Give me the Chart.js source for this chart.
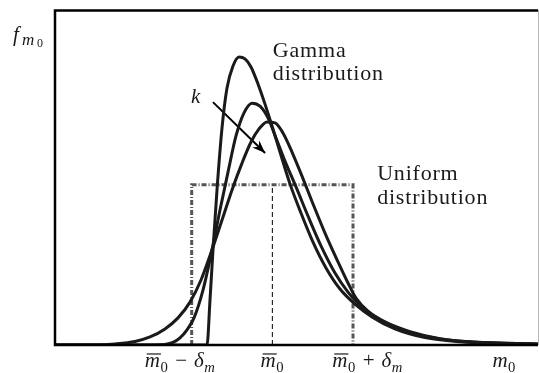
<!DOCTYPE html>
<html>
<head>
<meta charset="utf-8">
<script src="https://cdn.jsdelivr.net/npm/chart.js@4.4.1/dist/chart.umd.min.js"></script>
<style>
    html, body { margin: 0; padding: 0; background: #fff; }
</style>
</head>
<body>
<canvas id="mass-pdf" width="539" height="373"></canvas>
<script>
/**
 * Prior densities for the mass m0: three gamma shapes (k increasing)
 * against a uniform density on [m̄0 - δm, m̄0 + δm].
 */

// Mass axis in arbitrary units
const M_BAR = 4.5;
const DELTA_M = 1.67;
const UNIFORM_HEIGHT = 0.478;

// Gamma density, smallest k (tallest, hard start)
const GAMMA_K1_X = [0, 3.147, 3.209, 3.271, 3.354, 3.458, 3.561, 3.685, 3.810, 3.934, 4.058, 4.203, 4.348, 4.493, 4.658, 4.865, 5.093, 5.342, 5.611, 5.901, 6.211, 6.563, 7.039, 7.660, 8.385, 9.213, 10];
const GAMMA_K1_Y = [0, 0, 0.134, 0.284, 0.463, 0.648, 0.767, 0.833, 0.860, 0.854, 0.830, 0.779, 0.719, 0.654, 0.576, 0.481, 0.394, 0.307, 0.230, 0.167, 0.122, 0.084, 0.048, 0.022, 0.010, 0.005, 0.002];

// Gamma density, middle k
const GAMMA_K2_X = [0, 2.070, 2.277, 2.443, 2.588, 2.733, 2.878, 3.064, 3.251, 3.416, 3.582, 3.747, 3.913, 4.079, 4.244, 4.410, 4.576, 4.762, 4.990, 5.238, 5.507, 5.797, 6.066, 6.273, 6.563, 6.936, 7.391, 7.971, 8.696, 10];
const GAMMA_K2_Y = [0, 0, 0.0015, 0.0075, 0.021, 0.045, 0.081, 0.164, 0.284, 0.403, 0.516, 0.624, 0.693, 0.722, 0.713, 0.678, 0.618, 0.549, 0.472, 0.385, 0.296, 0.215, 0.158, 0.125, 0.090, 0.060, 0.036, 0.018, 0.009, 0.0024];

// Gamma density, largest k (broadest)
const GAMMA_K3_X = [0, 0.828, 1.242, 1.656, 1.967, 2.277, 2.547, 2.795, 3.023, 3.251, 3.458, 3.665, 3.872, 4.058, 4.224, 4.389, 4.555, 4.720, 4.907, 5.114, 5.342, 5.590, 5.859, 6.066, 6.232, 6.480, 6.832, 7.350, 7.971, 8.696, 10];
const GAMMA_K3_Y = [0, 0, 0.003, 0.0104, 0.024, 0.048, 0.081, 0.128, 0.194, 0.284, 0.373, 0.463, 0.543, 0.606, 0.645, 0.666, 0.663, 0.633, 0.576, 0.504, 0.421, 0.334, 0.248, 0.185, 0.140, 0.101, 0.069, 0.040, 0.019, 0.0085, 0.003];

// Arrow showing the direction of increasing k
const ARROW_X = [3.27, 4.35];
const ARROW_Y = [0.725, 0.573];

// Where the axis labels sit along m0
const X_LABEL_AT = [2.59, 4.5, 6.47, 9.3];

const SERIF = "'Liberation Serif', 'DejaVu Serif', serif";
const INK = '#1a1a1a';

function points(xs, ys) {
    return xs.map((x, i) => ({ x, y: ys[i] }));
}

const uniformX = [M_BAR - DELTA_M, M_BAR - DELTA_M, M_BAR + DELTA_M, M_BAR + DELTA_M];
const uniformY = [0, UNIFORM_HEIGHT, UNIFORM_HEIGHT, 0];

function gammaDataset(xs, ys) {
    return {
        data: points(xs, ys),
        borderColor: INK,
        borderWidth: 3,
        pointRadius: 0,
        cubicInterpolationMode: 'monotone',
        borderJoinStyle: 'round',
        fill: false,
    };
}

// Math-ish labels: runs of text with italic / subscript / overbar
const SUB = { sub: true };
const X_LABELS = [
    [{ t: 'm', it: true, bar: true }, { t: '0', ...SUB }, { t: '−', op: true }, { t: 'δ', it: true }, { t: 'm', it: true, ...SUB }],
    [{ t: 'm', it: true, bar: true }, { t: '0', ...SUB }],
    [{ t: 'm', it: true, bar: true }, { t: '0', ...SUB }, { t: '+', op: true }, { t: 'δ', it: true }, { t: 'm', it: true, ...SUB }],
    [{ t: 'm', it: true }, { t: '0', ...SUB }],
];

// Free text placed in data coordinates: [x, baseline y]
const NOTES = [
    { text: 'Gamma', at: [4.51, 0.860] },
    { text: 'distribution', at: [4.51, 0.791] },
    { text: 'Uniform', at: [6.67, 0.493] },
    { text: 'distribution', at: [6.67, 0.421] },
];

function runFont(r, size) {
    const s = r.sub ? size * 0.7 : size;
    return `${r.it ? 'italic ' : ''}${s}px ${SERIF}`;
}

function drawRuns(ctx, runs, x, y, size, align) {
    let width = 0;
    const laid = runs.map(r => {
        ctx.font = runFont(r, size);
        const pad = r.op ? size * 0.33 : 0;
        const w = ctx.measureText(r.t).width;
        const item = { r, x: width + pad, w };
        width += w + pad * 2 + (r.sub ? 1 : 0);
        return item;
    });
    const x0 = align === 'center' ? x - width / 2 : x;
    for (const { r, x: dx, w } of laid) {
        ctx.font = runFont(r, size);
        const yy = y + (r.sub ? size * 0.22 : 0);
        ctx.fillText(r.t, x0 + dx + (r.sub ? 0.5 : 0), yy);
        if (r.bar) {
            const top = y - size * 0.62;
            ctx.beginPath();
            ctx.moveTo(x0 + dx + 2, top);
            ctx.lineTo(x0 + dx + w + 1, top);
            ctx.lineWidth = 1.2;
            ctx.stroke();
        }
    }
}

const framePlugin = {
    id: 'frame',
    afterDatasetsDraw(chart) {
        const { ctx, chartArea: a, scales: { x, y } } = chart;
        ctx.save();

        // arrowhead at the end of the k arrow
        const x1 = x.getPixelForValue(ARROW_X[0]), y1 = y.getPixelForValue(ARROW_Y[0]);
        const x2 = x.getPixelForValue(ARROW_X[1]), y2 = y.getPixelForValue(ARROW_Y[1]);
        const ang = Math.atan2(y2 - y1, x2 - x1);
        const len = 13, half = 5;
        ctx.fillStyle = '#000';
        ctx.beginPath();
        ctx.moveTo(x2, y2);
        ctx.lineTo(x2 - len * Math.cos(ang) + half * Math.sin(ang), y2 - len * Math.sin(ang) - half * Math.cos(ang));
        ctx.lineTo(x2 - len * 0.7 * Math.cos(ang), y2 - len * 0.7 * Math.sin(ang));
        ctx.lineTo(x2 - len * Math.cos(ang) - half * Math.sin(ang), y2 - len * Math.sin(ang) + half * Math.cos(ang));
        ctx.closePath();
        ctx.fill();

        // box round the plot
        ctx.strokeStyle = '#000';
        ctx.lineWidth = 2.5;
        ctx.beginPath();
        ctx.moveTo(a.right, a.top + 0.5);
        ctx.lineTo(a.left, a.top + 0.5);
        ctx.lineTo(a.left, a.bottom);
        ctx.lineTo(a.right, a.bottom);
        ctx.stroke();
        ctx.strokeStyle = '#b5b5b5';
        ctx.lineWidth = 1;
        ctx.beginPath();
        ctx.moveTo(a.right + 0.5, a.top);
        ctx.lineTo(a.right + 0.5, a.bottom);
        ctx.stroke();

        // text
        ctx.fillStyle = INK;
        ctx.strokeStyle = INK;
        ctx.textBaseline = 'alphabetic';
        ctx.letterSpacing = '0.8px';
        ctx.font = `22px ${SERIF}`;
        for (const n of NOTES) {
            ctx.fillText(n.text, x.getPixelForValue(n.at[0]), y.getPixelForValue(n.at[1]));
        }
        ctx.letterSpacing = '0px';

        const labelY = a.bottom + 22;
        X_LABELS.forEach((runs, i) => {
            drawRuns(ctx, runs, x.getPixelForValue(X_LABEL_AT[i]), labelY, 21, 'center');
        });

        // y axis name f_{m0}
        ctx.font = `italic 21px ${SERIF}`;
        ctx.fillText('f', 13, 41);
        ctx.font = `italic 17px ${SERIF}`;
        ctx.fillText('m', 22, 45);
        ctx.font = `12px ${SERIF}`;
        ctx.fillText('0', 37, 47);

        // k next to the arrow
        ctx.font = `italic 21px ${SERIF}`;
        ctx.fillText('k', x.getPixelForValue(ARROW_X[0]) - 22, y.getPixelForValue(ARROW_Y[0]) + 1);

        ctx.restore();
    }
};

new Chart(document.getElementById('mass-pdf'), {
    type: 'line',
    data: {
        datasets: [
            gammaDataset(GAMMA_K1_X, GAMMA_K1_Y),
            gammaDataset(GAMMA_K2_X, GAMMA_K2_Y),
            gammaDataset(GAMMA_K3_X, GAMMA_K3_Y),
            {
                data: points(ARROW_X, ARROW_Y),
                borderColor: '#000',
                borderWidth: 2,
                pointRadius: 0,
                tension: 0,
            },
            {
                data: points([M_BAR, M_BAR], [0, UNIFORM_HEIGHT]),
                borderColor: '#000',
                borderWidth: 1,
                borderDash: [5, 3],
                pointRadius: 0,
                tension: 0,
            },
            {
                data: points(uniformX, uniformY),
                borderColor: '#555',
                borderWidth: 3,
                borderDash: [5, 2, 1, 2],
                borderCapStyle: 'butt',
                pointRadius: 0,
                tension: 0,
            },
        ]
    },
    options: {
        responsive: false,
        animation: false,
        layout: { padding: { left: 55, top: 10, right: 1, bottom: 28 } },
        plugins: {
            legend: { display: false },
            tooltip: { enabled: false },
        },
        scales: {
            x: { type: 'linear', min: 0, max: 10, display: false },
            y: { type: 'linear', min: 0, max: 1, display: false },
        },
    },
    plugins: [framePlugin],
});
</script>
</body>
</html>
